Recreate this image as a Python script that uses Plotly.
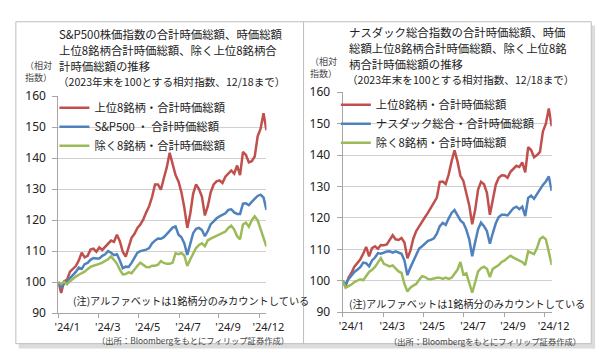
import pandas as pd
import plotly.graph_objects as go

# ---------------- data ----------------
dates = pd.date_range("2023-12-29", "2024-12-18", freq="5D")  # 72 points, end 12/18

sp_top8 = [100, 96.5, 100.3, 100.8, 103.4, 104.3, 105.2, 107.0, 109.5, 108.0,
           108.5, 110.5, 110.8, 109.8, 111.2, 110.4, 111.5, 112.6, 113.4, 113.0,
           115.3, 113.2, 109.8, 108.2, 111.5, 114.3, 115.6, 117.5, 118.6, 120.2,
           122.5, 124.5, 127.5, 131.5, 131.5, 129.8, 133.5, 137.0, 141.7, 138.5,
           134.5, 132.5, 129.0, 124.0, 117.5, 122.0, 128.5, 131.5, 130.0, 127.5,
           121.5, 124.5, 129.0, 131.5, 132.5, 132.8, 132.0, 134.0, 135.0, 136.0,
           135.0, 137.6, 134.5, 142.0, 141.0, 138.6, 139.0, 140.5, 147.0, 149.5,
           154.5, 149.0]
sp_total = [100, 98.3, 99.6, 100.3, 101.3, 102.3, 103.3, 104.7, 104.3, 105.8,
            106.2, 107.2, 107.8, 107.6, 107.6, 108.5, 109.0, 110.0, 109.5, 108.7,
            109.0, 107.0, 104.5, 105.0, 104.9, 106.2, 107.8, 109.5, 110.0, 110.2,
            110.5, 111.0, 112.5, 113.4, 114.1, 114.0, 114.5, 115.5, 116.7, 117.6,
            118.0, 115.3, 114.5, 112.5, 108.8, 112.5, 115.8, 117.2, 117.5, 116.8,
            114.8, 116.5, 118.7, 119.6, 120.6, 121.2, 121.6, 122.2, 123.3, 123.5,
            122.5, 122.0, 122.0, 125.3, 125.4, 124.8, 125.9, 126.8, 127.8, 128.2,
            127.3, 123.3]
sp_ex8 = [100, 99.4, 100.1, 99.3, 100.3, 101.2, 101.8, 102.4, 102.9, 103.4,
          104.2, 104.9, 105.3, 105.5, 105.9, 106.3, 106.8, 107.4, 108.3, 107.1,
          106.0, 104.0, 102.5, 102.6, 103.2, 102.9, 104.2, 105.3, 106.3, 105.5,
          104.9, 104.8, 105.3, 105.3, 105.6, 106.8, 106.2, 105.9, 105.9, 106.3,
          109.3, 109.0, 109.4, 108.6, 105.2, 107.3, 109.3, 111.0, 112.0, 112.5,
          111.6, 113.5, 114.0, 114.5, 115.0, 115.5, 116.0, 116.3, 117.5, 118.2,
          117.0, 114.8, 113.8, 118.6, 119.2, 117.9, 120.0, 121.2, 119.9, 116.9,
          114.6, 111.5]

nq_top8 = [100, 98.3, 101.0, 102.5, 104.5, 105.8, 106.8, 108.6, 110.8, 107.8,
           110.4, 111.0, 110.2, 111.4, 111.3, 111.6, 113.0, 114.5, 113.2, 113.0,
           113.6, 112.2, 107.2, 109.5, 113.4, 115.8, 117.3, 118.6, 120.3, 121.7,
           123.3, 124.6, 126.5, 131.5, 131.6, 130.8, 133.8, 138.0, 141.5, 138.0,
           133.4, 131.8, 128.0, 124.0, 118.0, 122.5, 129.0, 131.5, 130.7, 128.0,
           121.0, 126.5, 130.6, 132.8, 133.6, 133.5, 132.8, 134.7, 135.6, 136.6,
           136.2, 137.7, 134.5, 142.5, 141.6, 139.3, 140.0, 141.0, 147.5, 150.0,
           154.8, 149.2]
nq_total = [100, 98.8, 100.5, 101.8, 102.8, 103.5, 104.3, 105.8, 105.6, 104.6,
            106.5, 107.4, 108.8, 108.6, 109.0, 109.3, 109.4, 109.0, 109.4, 108.9,
            108.6, 106.5, 101.8, 104.2, 106.4, 108.2, 110.3, 111.0, 112.0, 112.7,
            113.0, 113.5, 115.0, 117.4, 118.4, 117.8, 119.8, 121.6, 122.5, 121.0,
            119.2, 118.4, 116.3, 113.2, 107.8, 112.3, 116.4, 118.5, 117.4, 115.8,
            111.8, 115.2, 118.3, 120.3, 121.0, 121.0, 120.8, 122.0, 123.1, 123.6,
            122.8, 123.6, 120.6, 126.4, 127.1, 126.1, 127.6, 128.8, 130.5, 131.6,
            133.2, 128.6]
nq_ex8 = [100, 97.8, 98.3, 98.8, 99.6, 100.0, 100.5, 100.2, 101.4, 102.8,
          103.5, 104.4, 105.8, 107.2, 105.4, 104.9, 104.6, 104.9, 104.0, 103.0,
          102.5, 99.0, 96.6, 97.8, 98.5, 99.0, 100.3, 101.5, 101.2, 100.6,
          100.5, 100.8, 101.0, 101.0, 100.6, 101.0, 100.6, 101.0, 102.3, 103.5,
          106.0, 102.0, 102.4, 99.5, 96.2, 99.5, 103.0, 104.0, 104.5, 103.8,
          101.2, 103.8, 104.5, 105.0, 106.0, 106.5, 107.3, 108.0, 107.4, 106.8,
          106.4, 106.0, 105.0, 109.4, 109.0, 108.5, 110.4, 113.3, 114.0, 113.2,
          109.2, 105.0]

tick_dates = ["2023-12-29", "2024-03-07", "2024-05-14", "2024-07-22", "2024-09-28", "2024-12-06"]
tick_labels = ["'24/1", "'24/3", "'24/5", "'24/7", "'24/9", "'24/12"]
y_ticks = [90, 100, 110, 120, 130, 140, 150, 160]

names_left = ["上位8銘柄・合計時価総額", "S&P500 ・ 合計時価総額", "除く8銘柄・合計時価総額"]
names_right = ["上位8銘柄・合計時価総額", "ナスダック総合・合計時価総額", "除く8銘柄・合計時価総額"]
colors = ["#C0504D", "#4F81BD", "#9BBB59"]

title_left = ["S&P500株価指数の合計時価総額、時価総額",
              "上位8銘柄合計時価総額、除く上位8銘柄合",
              "計時価総額の推移"]
title_right = ["ナスダック総合指数の合計時価総額、時価",
               "総額上位8銘柄合計時価総額、除く上位8銘",
               "柄合計時価総額の推移"]
subtitle = "（2023年末を100とする相対指数、12/18まで）"
unit = ["（相対", "指数）"]
note = "(注)アルファベットは1銘柄分のみカウントしている"
source = "（出所：Bloombergをもとにフィリップ証券作成）"

# ---------------- figure ----------------
W, H = 608, 357
FONT = "Noto Sans CJK JP"
NUMFONT = "Noto Sans"


def px(x):
    return x / W


def py(y):
    return 1 - y / H


fig = go.Figure()
for vals, name, col in zip([sp_top8, sp_total, sp_ex8], names_left, colors):
    fig.add_trace(go.Scatter(x=dates, y=vals, name=name, mode="lines",
                             line=dict(color=col, width=2.5),
                             xaxis="x", yaxis="y", legend="legend"))
for vals, name, col in zip([nq_top8, nq_total, nq_ex8], names_right, colors):
    fig.add_trace(go.Scatter(x=dates, y=vals, name=name, mode="lines",
                             line=dict(color=col, width=2.5),
                             xaxis="x2", yaxis="y2", legend="legend2"))

axis_col = "#a6a6a6"
grid_col = "#d0d0d0"


def xaxis(domain, anchor):
    return dict(domain=domain, anchor=anchor, type="date",
                range=[dates[0], dates[-1]], tickmode="array",
                tickvals=tick_dates, ticktext=tick_labels,
                ticks="outside", ticklen=4, tickcolor=axis_col,
                showline=True, linecolor=axis_col, linewidth=1,
                showgrid=False, zeroline=False, ticklabelshift=9,
                tickfont=dict(family=NUMFONT, size=11, color="#222222"))


def yaxis(domain, anchor):
    return dict(domain=domain, anchor=anchor, range=[90, 160],
                tickmode="array", tickvals=y_ticks,
                ticks="outside", ticklen=5, tickcolor=axis_col,
                showline=True, linecolor=axis_col, linewidth=1,
                showgrid=True, gridcolor=grid_col, gridwidth=1,
                zeroline=False, ticklabelstandoff=4,
                tickfont=dict(family=NUMFONT, size=12, color="#222222"))


legend_common = dict(xanchor="left", yanchor="top", bgcolor="rgba(0,0,0,0)",
                     borderwidth=0, itemwidth=30,
                     font=dict(family=FONT, size=11.3, color="#222222"))

annotations = []


def text(x, y, s, size, color="#222222", xanchor="left"):
    annotations.append(dict(x=px(x), y=py(y), xref="paper", yref="paper",
                            text=s, showarrow=False, xanchor=xanchor,
                            yanchor="middle", align="left",
                            font=dict(family=FONT, size=size, color=color)))


for line, yy in zip(title_left, [18.0, 34.6, 51.2]):
    text(47, yy, line, 11.4)
text(46, 67.8, subtitle, 10.6)
for line, yy in zip(title_right, [16.0, 32.6, 49.2]):
    text(348, yy, line, 11.4)
text(346, 65.6, subtitle, 10.6)
text(28, 50.5, unit[0], 9.0, "#444444", "center")
text(28, 63.5, unit[1], 9.0, "#444444", "center")
text(323, 46.5, unit[0], 9.0, "#444444", "center")
text(323, 59.5, unit[1], 9.0, "#444444", "center")
text(61, 297.7, note, 10.2)
text(348, 300.8, note, 10.2)
text(289, 339, source, 8.3, "#444444", "right")
text(592, 340, source, 8.3, "#444444", "right")

shapes = [
    # drop shadow
    dict(type="rect", xref="paper", yref="paper", x0=px(7), x1=px(605), y0=py(348),
         y1=py(343), fillcolor="#dcdcdc", line=dict(width=0), layer="below"),
    dict(type="rect", xref="paper", yref="paper", x0=px(601), x1=px(605), y0=py(348),
         y1=py(9), fillcolor="#dcdcdc", line=dict(width=0), layer="below"),
    # frames
    dict(type="rect", xref="paper", yref="paper", x0=px(4), x1=px(601), y0=py(343),
         y1=py(5), fillcolor="white", line=dict(color="#bdbdbd", width=1), layer="below"),
    dict(type="line", xref="paper", yref="paper", x0=px(302.5), x1=px(302.5),
         y0=py(343), y1=py(5), line=dict(color="#bdbdbd", width=1), layer="below"),
]

fig.update_layout(
    width=W, height=H, margin=dict(l=0, r=0, t=0, b=0),
    paper_bgcolor="white", plot_bgcolor="rgba(0,0,0,0)",
    font=dict(family=FONT, color="#222222"),
    xaxis=xaxis([px(48), px(264)], "y"),
    yaxis=yaxis([py(311), py(83)], "x"),
    xaxis2=xaxis([px(343), px(560)], "y2"),
    yaxis2=yaxis([py(310), py(79)], "x2"),
    legend=dict(x=px(44), y=py(80), **legend_common),
    legend2=dict(x=px(336), y=py(77), **legend_common),
    annotations=annotations,
    shapes=shapes,
    showlegend=True,
)

fig.write_html("out.html")
